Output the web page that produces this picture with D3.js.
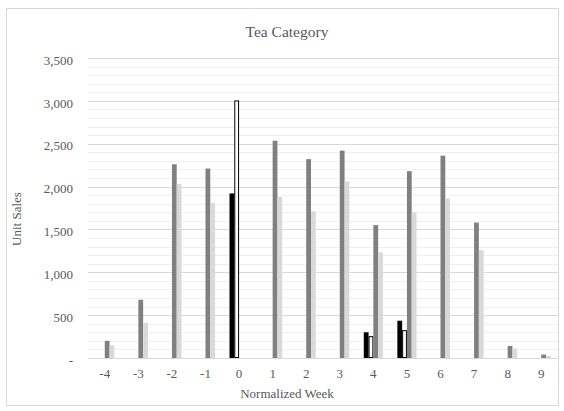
<!DOCTYPE html>
<html>
<head>
<meta charset="utf-8">
<script src="https://cdn.jsdelivr.net/npm/d3@7"></script>
<style>
  html, body { margin: 0; padding: 0; background: #fff; }
  svg { display: block; font-family: "Liberation Serif", "Times New Roman", serif; }
</style>
</head>
<body>
<svg id="chart" width="564" height="411"></svg>
<script>
// Weekly unit sales, normalized around week 0
const weeks = ["-4", "-3", "-2", "-1", "0", "1", "2", "3", "4", "5", "6", "7", "8", "9"];
const promoA = [null, null, null, null, 1920, null, null, null, 300, 435, null, null, null, null];
const promoB = [null, null, null, null, 3005, null, null, null, 255, 325, null, null, null, null];
const storesA = [200, 680, 2260, 2210, null, 2535, 2320, 2420, 1550, 2180, 2360, 1580, 140, 40];
const storesB = [150, 410, 2030, 1810, null, 1880, 1710, 2060, 1233, 1700, 1860, 1260, 110, 25];
const yTicks = [0, 500, 1000, 1500, 2000, 2500, 3000, 3500];

const seriesList = [
  { key: "promoA", values: promoA, fill: "#000000", stroke: "none" },
  { key: "promoB", values: promoB, fill: "#ffffff", stroke: "#000000" },
  { key: "storesA", values: storesA, fill: "#808080", stroke: "none" },
  { key: "storesB", values: storesB, fill: "#d9d9d9", stroke: "none" }
];

const svg = d3.select("#chart");
const W = 564, H = 411;
const plot = { left: 88, right: 558, top: 58, bottom: 358 };
const textColor = "#595959";

// chart frame
svg.append("rect")
  .attr("x", 6.5).attr("y", 8.5)
  .attr("width", W - 12).attr("height", H - 14)
  .attr("fill", "#fff").attr("stroke", "#d9d9d9");

const x = d3.scaleBand().domain(weeks).range([plot.left, plot.right]);
const y = d3.scaleLinear().domain([0, 3500]).range([plot.bottom, plot.top]);

const groupWidth = x.bandwidth() * 0.57;
const x1 = d3.scaleBand().domain(seriesList.map(s => s.key)).range([-groupWidth / 2, groupWidth / 2]);

// minor gridlines
const minor = d3.range(100, 3501, 100).filter(v => v % 500 !== 0);
svg.append("g").selectAll("line").data(minor).join("line")
  .attr("x1", plot.left).attr("x2", plot.right)
  .attr("y1", d => Math.round(y(d)) + 0.5).attr("y2", d => Math.round(y(d)) + 0.5)
  .attr("stroke", "#f0f0f0").attr("stroke-width", 1);

// major gridlines
svg.append("g").selectAll("line").data(yTicks.filter(v => v > 0)).join("line")
  .attr("x1", plot.left).attr("x2", plot.right)
  .attr("y1", d => Math.round(y(d)) + 0.5).attr("y2", d => Math.round(y(d)) + 0.5)
  .attr("stroke", "#d9d9d9").attr("stroke-width", 1);

// bars
seriesList.forEach(s => {
  const inset = s.stroke !== "none" ? 0.5 : 0;
  const data = weeks.map((w, i) => ({ w, v: s.values[i] })).filter(d => d.v != null);
  svg.append("g").selectAll("rect").data(data).join("rect")
    .attr("x", d => x(d.w) + x.bandwidth() / 2 + x1(s.key) + inset)
    .attr("y", d => y(d.v) + inset)
    .attr("width", x1.bandwidth() - 2 * inset)
    .attr("height", d => y(0) - y(d.v) - 2 * inset)
    .attr("fill", s.fill)
    .attr("stroke", s.stroke)
    .attr("stroke-width", 1);
});

// baseline
svg.append("line")
  .attr("x1", plot.left).attr("x2", plot.right)
  .attr("y1", Math.round(y(0)) + 0.5).attr("y2", Math.round(y(0)) + 0.5)
  .attr("stroke", "#d9d9d9");

// y axis labels
const fmt = d => d === 0 ? "-" : d3.format(",")(d);
const yAxis = d3.axisLeft(y).tickValues(yTicks).tickFormat(fmt).tickSize(0).tickPadding(0);
const gy = svg.append("g").attr("transform", `translate(${plot.left - 15},2)`).call(yAxis);
gy.select(".domain").remove();
gy.selectAll("text").attr("fill", textColor).style("font-size", "13px")
  .style("font-family", "Liberation Serif, serif");

// x axis labels
const xAxis = d3.axisBottom(x).tickSize(0).tickPadding(0);
const gx = svg.append("g").attr("transform", `translate(0,${plot.bottom + 11})`).call(xAxis);
gx.select(".domain").remove();
gx.selectAll("text").attr("fill", textColor).style("font-size", "13px")
  .style("font-family", "Liberation Serif, serif");

// titles
const centerX = 287;
svg.append("text")
  .attr("x", centerX).attr("y", 37)
  .attr("text-anchor", "middle").attr("fill", textColor)
  .style("font-size", "15.5px").text("Tea Category");

svg.append("text")
  .attr("x", centerX).attr("y", 398)
  .attr("text-anchor", "middle").attr("fill", textColor)
  .style("font-size", "13px").text("Normalized Week");

svg.append("text")
  .attr("transform", `translate(21,219) rotate(-90)`)
  .attr("text-anchor", "middle").attr("fill", textColor)
  .style("font-size", "13px").text("Unit Sales");
</script>
</body>
</html>
